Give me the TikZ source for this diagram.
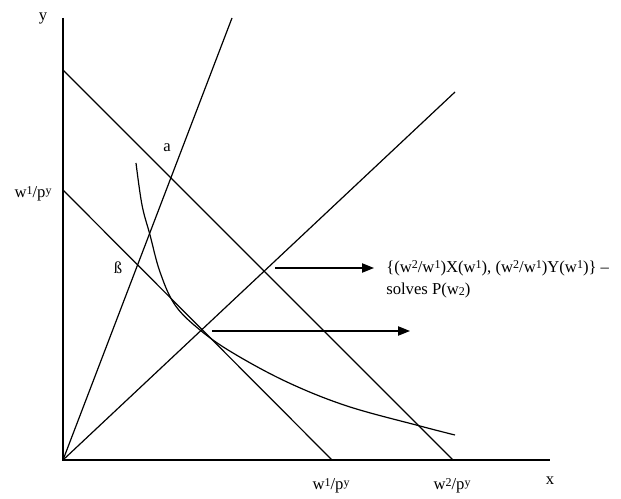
\documentclass[tikz,border=0pt]{standalone}
\usepackage{fontspec}
\setmainfont{Liberation Serif}
\usetikzlibrary{arrows.meta, positioning}

\newcommand{\hoch}[1]{\raisebox{2.5pt}{\fontsize{9}{10}\selectfont #1}}
\newcommand{\tief}[1]{\raisebox{-1pt}{\fontsize{9}{10}\selectfont #1}}

\tikzset{
  curveline/.style={black, line width=0.9pt},
  arrowline/.style={black, line width=0.9pt, -{Triangle[length=9pt, width=7pt]}},
  axislabel/.style={font=\fontsize{12.5}{16.5}\selectfont, inner sep=0pt},
}

\begin{document}
\begin{tikzpicture}[x=0.75pt, y=-0.75pt]
  \useasboundingbox (0,0) rectangle (621,499);
  % Achsen
  \coordinate (O) at (63,460);
  \coordinate (ytop) at (63,18);
  \coordinate (xend) at (550,460);
  \draw[curveline] (ytop) -- (O) -- (xend);
  % Budgetgeraden
  \coordinate (b2top) at (63,70);
  \coordinate (b2bot) at (453,460);
  \coordinate (b1top) at (63,190);
  \coordinate (b1bot) at (332,460);
  \draw[curveline] (b2top) -- (b2bot);
  \draw[curveline] (b1top) -- (b1bot);
  % Strahlen aus dem Ursprung
  \coordinate (raysteep) at (232,18);
  \coordinate (rayflat) at (455,92);
  \draw[curveline] (O) -- (raysteep);
  \draw[curveline] (O) -- (rayflat);
  % Indifferenzkurve
  \draw[curveline] plot[smooth, tension=0.6] coordinates {(136,163) (142,205) (150,235) (160,272) (175,305) (200,330) (233,353) (287,382) (347,406) (420,426) (455,435)};
  % Pfeile
  \coordinate (ar1s) at (275,268);
  \coordinate (ar1e) at (374,268);
  \coordinate (ar2s) at (212,331);
  \coordinate (ar2e) at (410,331);
  \draw[arrowline] (ar1s) -- (ar1e);
  \draw[arrowline] (ar2s) -- (ar2e);
  % Beschriftungen
  \node[axislabel] (ylab) at (43,18) {y};
  \node[axislabel] (xlab) at (550,481) {x};
  \node[axislabel] (alab) at (167,148) {a};
  \node[axislabel] (blab) at (118,268) {ß};
  \node[axislabel] (wyl) at (33,194) {w\hoch{1}/p\hoch{y}};
  \node[axislabel] (wx1) at (331,486) {w\hoch{1}/p\hoch{y}};
  \node[axislabel] (wx2) at (452,486) {w\hoch{2}/p\hoch{y}};
  \node[axislabel, anchor=west, align=left] (sol) at (386,279) {\{(w\hoch{2}/w\hoch{1})X(w\hoch{1}), (w\hoch{2}/w\hoch{1})Y(w\hoch{1})\} --\\solves P(w\tief{2})};
\end{tikzpicture}
\end{document}
